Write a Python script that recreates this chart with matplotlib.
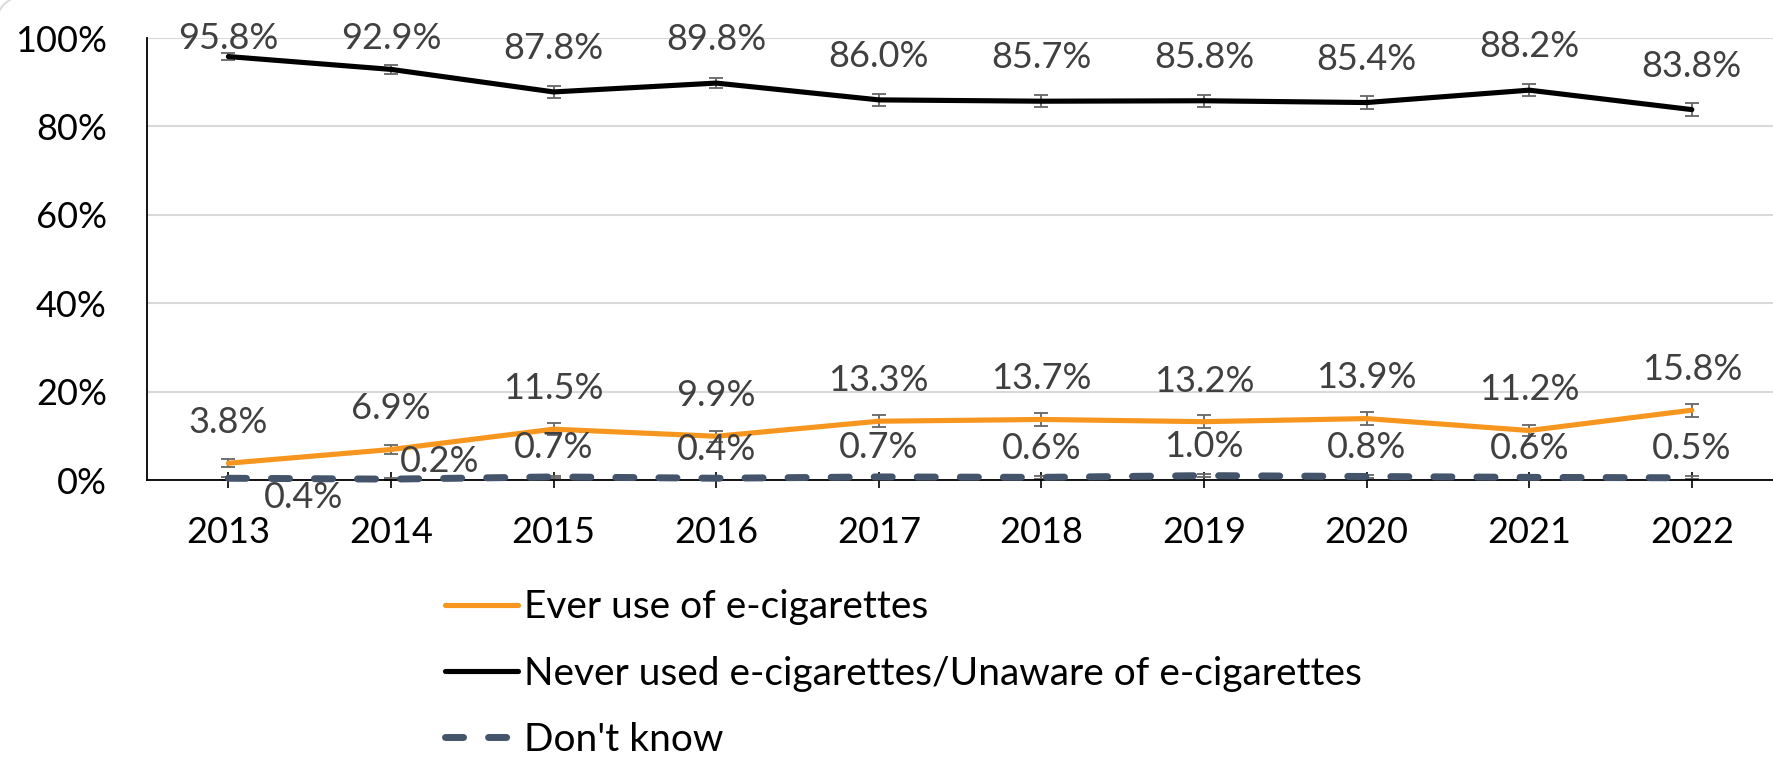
import numpy as np
import matplotlib
matplotlib.use("Agg")
import matplotlib.pyplot as plt
from matplotlib.patches import Arc
from matplotlib.transforms import IdentityTransform

plt.rcParams['font.family'] = ['Lato', 'DejaVu Sans']

# data
years = ['2013', '2014', '2015', '2016', '2017', '2018', '2019', '2020', '2021', '2022']
ever_use = [3.8, 6.9, 11.5, 9.9, 13.3, 13.7, 13.2, 13.9, 11.2, 15.8]
never_used = [95.8, 92.9, 87.8, 89.8, 86.0, 85.7, 85.8, 85.4, 88.2, 83.8]
dont_know = [0.4, 0.2, 0.7, 0.4, 0.7, 0.6, 1.0, 0.8, 0.6, 0.5]
ever_err = [0.9, 1.0, 1.3, 1.2, 1.4, 1.4, 1.4, 1.4, 1.3, 1.5]
never_err = [0.8, 1.0, 1.3, 1.2, 1.4, 1.4, 1.4, 1.4, 1.3, 1.5]
dk_err = [0.3, 0.2, 0.3, 0.3, 0.3, 0.3, 0.3, 0.3, 0.3, 0.3]
labels = ['Ever use of e-cigarettes',
          'Never used e-cigarettes/Unaware of e-cigarettes',
          "Don't know"]

ORANGE = '#F7961E'
SLATE = '#44546A'
LBL = '#404040'
FS = 26

x = np.arange(len(years))

fig = plt.figure(figsize=(17.74, 7.6), dpi=100)
ax = fig.add_axes([0.0829, 0.3684, 0.9166, 0.5816])

for vals, err in [(ever_use, ever_err), (never_used, never_err), (dont_know, dk_err)]:
    ax.errorbar(x, vals, yerr=err, fmt='none', ecolor='#666666', elinewidth=1.3,
                capsize=4.8, capthick=1.3, zorder=2)

ax.plot(x, ever_use, color=ORANGE, lw=3.7, solid_capstyle='round', solid_joinstyle='round', label=labels[0], zorder=3)
ax.plot(x, never_used, color='black', lw=3.7, solid_capstyle='round', solid_joinstyle='round', label=labels[1], zorder=3)
ax.plot(x, dont_know, color=SLATE, lw=5.0, dashes=(2.6, 3.6), dash_capstyle='round', label=labels[2],
        zorder=3, clip_on=False)

# value labels
for i in range(len(years)):
    ax.text(x[i], min(never_used[i] + 9.8, 99.9), f'{never_used[i]:.1f}%', ha='center', va='center', fontsize=FS, color=LBL)
    ax.text(x[i], ever_use[i] + 9.2, f'{ever_use[i]:.1f}%', ha='center', va='center', fontsize=FS, color=LBL)

# don't know labels, first two were dragged in the original
dk_off = {0: (0.46, -4.3), 1: (0.30, 3.9)}
for i in range(len(years)):
    dx, dy = dk_off.get(i, (0.0, 6.6))
    ax.text(x[i] + dx, dont_know[i] + dy, f'{dont_know[i]:.1f}%', ha='center', va='center', fontsize=FS, color=LBL)

ax.set_xlim(-0.5, len(years) - 0.5)
ax.set_ylim(0, 100)
ax.set_xticks(x)
ax.set_xticklabels(years)
ax.set_yticks(np.arange(0, 101, 20))
ax.set_yticklabels([f'{v}%' for v in range(0, 101, 20)])
ax.tick_params(axis='x', direction='inout', length=12, width=1.2, pad=20, labelsize=FS, colors='black')
ax.tick_params(axis='y', length=0, pad=29, labelsize=FS, colors='black')

ax.grid(axis='y', color='#D9D9D9', lw=1.5, zorder=0)
ax.set_axisbelow(True)
for s in ['top', 'right']:
    ax.spines[s].set_visible(False)
ax.spines['left'].set_linewidth(1.3)
ax.spines['bottom'].set_linewidth(1.3)

fig.legend(loc='center left', bbox_to_anchor=(0.2508, 0.1135), frameon=False, fontsize=28,
           handlelength=1.88, handletextpad=0.15, labelspacing=0.78, borderpad=0, borderaxespad=0)

# faint rounded corner of the chart frame, top left
fig.add_artist(Arc((24, 736), 56, 56, theta1=90, theta2=180, color='#DDDDDD', lw=1.5,
                   transform=IdentityTransform()))

fig.savefig('out.png', dpi=100)
